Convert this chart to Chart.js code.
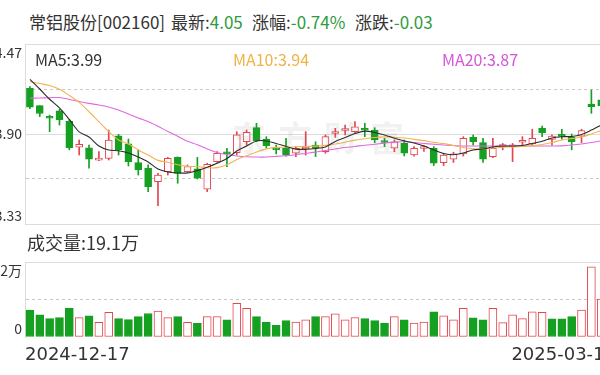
<!DOCTYPE html>
<html>
<head>
<meta charset="utf-8">
<script src="https://cdn.jsdelivr.net/npm/chart.js@4.4.1/dist/chart.umd.min.js"></script>
<style>
  html, body { margin: 0; padding: 0; background: #fff; }
  #wrap { position: relative; width: 600px; height: 375px; overflow: hidden; font-family: "Noto Sans CJK SC", "Noto Sans", sans-serif; color: #333; }
  .t { position: absolute; white-space: nowrap; line-height: 20px; }
  .g { color: #2e9b3e; }
  canvas { position: absolute; left: 0; }
  #mark { position: absolute; left: 232px; top: 112px; font-size: 34px; letter-spacing: 12px; color: rgba(120,120,120,0.10); font-weight: bold; }
</style>
</head>
<body>
<div id="wrap">
  <div class="t" style="left:29px;top:12px;font-size:17px">常铝股份[002160]</div>
  <div class="t" style="left:171px;top:12px;font-size:17px">最新:<span class="g">4.05</span></div>
  <div class="t" style="left:252px;top:12px;font-size:17px">涨幅:<span class="g">-0.74%</span></div>
  <div class="t" style="left:355px;top:12px;font-size:17px">涨跌:<span class="g">-0.03</span></div>

  <canvas id="priceChart" width="630" height="200" style="top:34px"></canvas>
  <div id="mark">东方财富</div>
  <div class="t" style="left:35px;top:49px;font-size:16px;color:#333">MA5:3.99</div>
  <div class="t" style="left:233px;top:49px;font-size:16px;color:#f0b244">MA10:3.94</div>
  <div class="t" style="left:442px;top:49px;font-size:16px;color:#d655d8">MA20:3.87</div>

  <div class="t" style="left:27px;top:232px;font-size:18px">成交量:19.1万</div>
  <canvas id="volChart" width="630" height="123" style="top:252px"></canvas>
</div>
<script>
// trading days shown
const dates = [
  "2024-12-17","2024-12-18","2024-12-19","2024-12-20","2024-12-23","2024-12-24","2024-12-25","2024-12-26","2024-12-27","2024-12-30","2024-12-31",
  "2025-01-02","2025-01-03","2025-01-06","2025-01-07","2025-01-08","2025-01-09","2025-01-10","2025-01-13","2025-01-14","2025-01-15","2025-01-16","2025-01-17","2025-01-20","2025-01-21","2025-01-22","2025-01-23","2025-01-24","2025-01-27",
  "2025-02-05","2025-02-06","2025-02-07","2025-02-10","2025-02-11","2025-02-12","2025-02-13","2025-02-14","2025-02-17","2025-02-18","2025-02-19","2025-02-20","2025-02-21","2025-02-24","2025-02-25","2025-02-26","2025-02-27","2025-02-28",
  "2025-03-03","2025-03-04","2025-03-05","2025-03-06","2025-03-07","2025-03-10","2025-03-11","2025-03-12","2025-03-13","2025-03-14","2025-03-17","2025-03-18","2025-03-19"
];

const openP  = [4.19,4.08,4.005,4.046,3.98,3.816,3.813,3.735,3.746,3.889,3.837,3.719,3.683,3.598,3.661,3.752,3.661,3.679,3.55,3.725,
                3.776,3.782,3.851,3.94,3.868,3.801,3.81,3.778,3.805,3.83,3.788,3.903,3.922,3.915,3.927,3.925,3.849,3.81,3.841,3.767,
                3.808,3.81,3.719,3.74,3.774,3.879,3.845,3.757,3.82,3.818,3.848,3.837,3.936,3.866,3.889,3.879,3.887,4.09,4.116,4.08];
const highP  = [4.20,4.08,4.02,4.056,3.99,3.862,3.83,3.788,3.925,3.898,3.868,3.80,3.704,3.651,3.752,3.755,3.704,3.752,3.715,3.788,
                3.81,3.915,3.925,3.968,3.883,3.83,3.873,3.82,3.915,3.851,3.894,3.936,3.957,3.978,3.968,3.94,3.873,3.862,3.862,3.82,
                3.826,3.82,3.778,3.785,3.883,3.894,3.873,3.873,3.84,3.84,3.883,3.93,3.95,3.894,3.93,3.90,3.93,4.179,4.14,4.10];
const lowP   = [4.06,4.01,3.915,3.957,3.80,3.767,3.683,3.731,3.735,3.767,3.697,3.64,3.535,3.446,3.64,3.588,3.655,3.615,3.535,3.72,
                3.693,3.767,3.83,3.851,3.81,3.774,3.76,3.757,3.767,3.757,3.778,3.879,3.894,3.905,3.883,3.845,3.82,3.788,3.761,3.76,
                3.79,3.70,3.70,3.72,3.76,3.83,3.72,3.75,3.80,3.725,3.83,3.83,3.883,3.83,3.866,3.80,3.845,4.031,4.05,4.02];
const closeP = [4.07,4.03,4.00,3.99,3.813,3.835,3.74,3.746,3.862,3.80,3.725,3.672,3.566,3.64,3.746,3.651,3.693,3.62,3.708,3.778,
                3.774,3.894,3.911,3.858,3.826,3.799,3.767,3.81,3.812,3.81,3.883,3.906,3.926,3.946,3.924,3.862,3.846,3.851,3.778,3.81,
                3.812,3.715,3.767,3.774,3.873,3.851,3.74,3.81,3.83,3.832,3.852,3.873,3.908,3.887,3.885,3.851,3.921,4.073,4.08,4.05];

const ma5  = [4.246,4.185,4.12,4.065,3.992,3.913,3.881,3.824,3.799,3.794,3.78,3.754,3.723,3.678,3.659,3.653,3.653,3.668,3.689,3.714,
              3.745,3.792,3.824,3.856,3.856,3.84,3.821,3.804,3.803,3.808,3.818,3.853,3.878,3.903,3.918,3.91,3.894,3.873,3.857,3.843,
              3.824,3.799,3.777,3.769,3.78,3.799,3.805,3.818,3.824,3.824,3.827,3.84,3.854,3.875,3.883,3.884,3.897,3.925,3.957,3.99];
const ma10 = [4.231,4.22,4.207,4.183,4.144,4.10,4.041,3.978,3.916,3.862,3.837,3.799,3.767,3.733,3.721,3.705,3.695,3.694,3.686,3.687,
              3.705,3.739,3.762,3.786,3.806,3.815,3.816,3.819,3.821,3.823,3.828,3.837,3.848,3.861,3.87,3.878,3.882,3.879,3.875,3.866,
              3.858,3.847,3.839,3.827,3.814,3.806,3.805,3.811,3.816,3.818,3.821,3.825,3.834,3.846,3.862,3.871,3.881,3.90,3.922,3.94];
const ma20 = [4.126,4.128,4.13,4.131,4.119,4.106,4.094,4.084,4.071,4.052,4.027,4.001,3.979,3.949,3.916,3.886,3.854,3.832,3.805,3.783,
              3.77,3.761,3.756,3.754,3.754,3.758,3.763,3.769,3.777,3.785,3.796,3.805,3.814,3.821,3.829,3.835,3.842,3.849,3.851,3.846,
              3.84,3.835,3.83,3.827,3.824,3.824,3.824,3.824,3.824,3.824,3.824,3.824,3.824,3.824,3.825,3.83,3.837,3.846,3.857,3.87];

// volume, 万手
const volume = [7.9,6.5,5.4,5.7,8.5,5.7,6.2,4.3,7.2,5.4,5.1,6.0,6.9,7.6,5.7,6.0,4.3,4.0,6.0,6.0,
                5.0,9.9,8.4,6.0,4.4,3.4,4.8,4.4,5.0,6.0,6.0,6.8,5.0,5.7,5.4,4.8,4.1,6.0,5.0,4.1,
                4.4,7.4,6.2,5.0,8.4,5.6,5.0,8.4,4.2,6.5,5.4,7.4,7.2,5.3,5.3,6.0,7.9,20.6,11.1,19.1];

const priceTicks = [3.33, 3.615, 3.90, 4.185, 4.47];
const priceLabels = ["3.33", "3.90", "4.47"];
const volTicks = [0, 11, 22];
const volLabels = ["0", "22万"];

const RED = "#e2474f";
const GREEN = "#16a021";
const GRID = "#dcdcdc";
const DASH = "#c8c8c8";

const candleUp = openP.map((o, i) => closeP[i] >= o);
const volUp = closeP.map((c, i) => i === 0 ? c >= openP[0] : c >= closeP[i - 1]);

// axis labels + date labels drawn against the scales
const sideText = {
  id: "sideText",
  afterDraw(chart, args, opts) {
    const { ctx, chartArea, scales } = chart;
    ctx.save();
    ctx.fillStyle = "#333";
    ctx.font = opts.font;
    ctx.textAlign = "right";
    opts.items.forEach(it => {
      ctx.textBaseline = it.base;
      ctx.fillText(it.text, chartArea.left - 3, scales.y.getPixelForValue(it.value) + it.dy);
    });
    if (opts.dates) {
      ctx.font = opts.dateFont;
      ctx.textBaseline = "middle";
      ctx.textAlign = "left";
      ctx.fillText(opts.dates[0], chartArea.left, chartArea.bottom + 18);
      ctx.textAlign = "right";
      ctx.fillText(opts.dates[1], chartArea.right, chartArea.bottom + 18);
    }
    ctx.restore();
  }
};

function yScale(min, max, ticks, gridColor, dashFn) {
  return {
    min: min, max: max,
    afterBuildTicks: s => { s.ticks = ticks.map(v => ({ value: v })); },
    afterFit: s => { s.width = 0; },
    ticks: { display: false },
    grid: { drawTicks: false, color: gridColor, lineWidth: 1 },
    border: { display: true, color: GRID, width: 1, dash: dashFn }
  };
}

new Chart(document.getElementById("priceChart"), {
  type: "bar",
  data: {
    labels: dates,
    datasets: [
      { type: "line", data: ma5, borderColor: "#2b2b2b", borderWidth: 1.1, pointRadius: 0, tension: 0.3, order: 0 },
      { type: "line", data: ma10, borderColor: "#f3b554", borderWidth: 1.1, pointRadius: 0, tension: 0.3, order: 0 },
      { type: "line", data: ma20, borderColor: "#e068e2", borderWidth: 1.1, pointRadius: 0, tension: 0.3, order: 0 },
      {
        data: openP.map((o, i) => [o, closeP[i]]),
        backgroundColor: candleUp.map(u => u ? "#ffffff" : GREEN),
        borderColor: candleUp.map(u => u ? RED : GREEN),
        borderWidth: 1, borderSkipped: false, barThickness: 7, minBarLength: 2, grouped: false, order: 1
      },
      {
        data: lowP.map((l, i) => [l, highP[i]]),
        backgroundColor: candleUp.map(u => u ? RED : GREEN),
        barThickness: 1, grouped: false, order: 2
      }
    ]
  },
  options: {
    responsive: false, animation: false, devicePixelRatio: 1,
    layout: { padding: { left: 25, right: 14, top: 10, bottom: 10 } },
    plugins: {
      legend: { display: false }, tooltip: { enabled: false },
      sideText: {
        font: "14px 'Noto Sans CJK SC'",
        items: [
          { text: priceLabels[2], value: priceTicks[4], base: "top", dy: 2 },
          { text: priceLabels[1], value: priceTicks[2], base: "middle", dy: 0 },
          { text: priceLabels[0], value: priceTicks[0], base: "bottom", dy: -1 }
        ]
      }
    },
    scales: {
      x: { display: false, offset: true },
      y: yScale(3.33, 4.47, priceTicks,
        c => (c.tick && (c.tick.value === 3.615 || c.tick.value === 4.185)) ? DASH : GRID,
        c => (c.tick && (c.tick.value === 3.615 || c.tick.value === 4.185)) ? [3, 3] : [])
    }
  },
  plugins: [sideText]
});

new Chart(document.getElementById("volChart"), {
  type: "bar",
  data: {
    labels: dates,
    datasets: [{
      data: volume,
      backgroundColor: volUp.map(u => u ? "#ffffff" : GREEN),
      borderColor: volUp.map(u => u ? RED : GREEN),
      borderWidth: 1, borderSkipped: false, barThickness: 8
    }]
  },
  options: {
    responsive: false, animation: false, devicePixelRatio: 1,
    layout: { padding: { left: 25, right: 14, top: 10, bottom: 38 } },
    plugins: {
      legend: { display: false }, tooltip: { enabled: false },
      sideText: {
        font: "14px 'Noto Sans CJK SC'",
        dateFont: "18px 'DejaVu Sans'",
        dates: [dates[0], dates[dates.length - 1]],
        items: [
          { text: volLabels[1], value: volTicks[2], base: "top", dy: 2 },
          { text: volLabels[0], value: volTicks[0], base: "bottom", dy: -1 }
        ]
      }
    },
    scales: {
      x: { display: false, offset: true },
      y: yScale(0, 22, volTicks,
        c => !c.tick ? GRID : (c.tick.value === 0 ? "rgba(0,0,0,0)" : (c.tick.value === 11 ? DASH : GRID)),
        c => (c.tick && c.tick.value === 11) ? [3, 3] : [])
    }
  },
  plugins: [sideText]
});
</script>
</body>
</html>
